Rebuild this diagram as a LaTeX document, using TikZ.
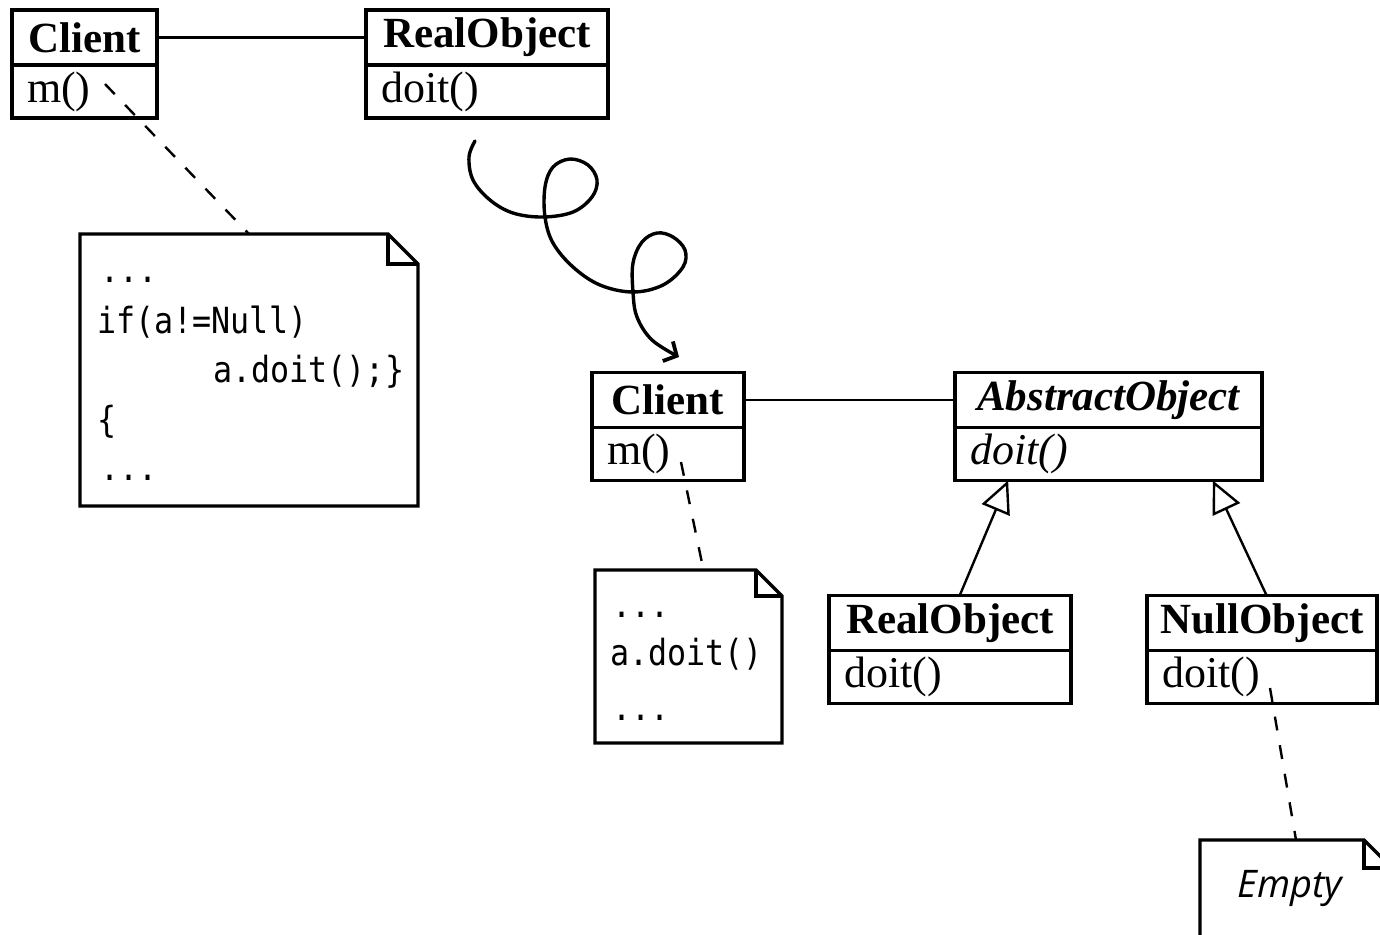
\documentclass[tikz,border=0pt]{standalone}
\usepackage{fontspec}
\setmainfont{Liberation Serif}
\newfontfamily\codefont[FakeStretch=0.88]{DejaVu Sans Mono}
\newfontfamily\notefont{Open Sans}
\usetikzlibrary{arrows.meta,calc}

% note outline with a folded corner, drawn around an invisible node
\newcommand\dogear[2]{%
  \draw[notepath] (#1.north west) -- ([xshift=-#2]#1.north east)
    -- ([yshift=-#2]#1.north east) -- (#1.south east) -- (#1.south west) -- cycle;
  \draw[notepath] ([xshift=-#2]#1.north east) -- ([xshift=-#2,yshift=-#2]#1.north east)
    -- ([yshift=-#2]#1.north east);}

\begin{document}
\begin{tikzpicture}[x=0.5pt,y=-0.5pt,
  box/.style={draw, line width=1.7pt, inner sep=0pt, outer sep=0pt, fill=white},
  clstitle/.style={box, minimum height=27.5pt, font=\fontsize{21.5}{24}\selectfont\bfseries},
  clsmethod/.style={box, minimum height=26.5pt, inner xsep=7.5pt, align=left, anchor=north,
    font=\fontsize{22}{24}\selectfont},
  notebox/.style={draw=none, inner sep=0pt, outer sep=0pt},
  notepath/.style={line width=1.7pt, line join=miter},
  code/.style={anchor=base west, inner sep=0pt, font=\codefont\fontsize{18}{20}\selectfont},
  assoc/.style={line width=1.2pt},
  anchorline/.style={line width=1.2pt, dash pattern=on 7pt off 7.5pt},
  inherit/.style={line width=1.2pt, -{Triangle[open, length=16pt, width=15pt, line width=1.2pt]}},
]
\useasboundingbox (0,0) rectangle (1380,934);
\clip (0,0) rectangle (1380,934);
\fill[white] (0,0) rectangle (1380,934);

% ---------- upper diagram ----------
\node[clstitle, minimum width=72.5pt] (c1t) at (84.5,37.5) {Client};
\node[clsmethod, text width=57.5pt] (c1m) at (c1t.south) {m()};
\node[clstitle, minimum width=121pt] (r1t) at (487,37.5) {RealObject};
\node[clsmethod, text width=106pt] (r1m) at (r1t.south) {doit()};
\draw[assoc] (c1t) -- (r1t);

\node[notebox, minimum width=169pt, minimum height=136pt] (n1) at (249,370) {};
\dogear{n1}{15pt}
\node[code] (n1a) at (100,282) {...};
\node[code] (n1b) at (97,333) {if(a!=Null)};
\node[code] (n1c) at (213,382) {a.doit();\}};
\node[code] (n1d) at (97,432) {\{};
\node[code] (n1e) at (100,480) {...};

\coordinate (c1tail) at (105,84);
\draw[anchorline] (c1tail) -- (n1.north);

% ---------- transformation arrow ----------
\coordinate (curlA) at (475,141);
\coordinate (curlB) at (679,357);
\draw[line width=1.7pt, line cap=round, -{Straight Barb[length=5pt, width=11pt, line width=1.9pt]}]
  plot[smooth, tension=0.6] coordinates {
    (curlA) (469,157) (473,180) (490,200) (513,213) (543,217) (573,212) (592,197)
    (597,180) (588,165) (570,159) (553,167) (545,187) (545,217) (553,243) (573,267)
    (600,285) (633,292) (663,285) (683,267) (685,250) (673,237) (657,233) (642,242)
    (633,263) (633,292) (637,317) (652,340) (curlB)};

% ---------- lower diagram ----------
\node[clstitle, minimum width=76pt] (c2t) at (668,400) {Client};
\node[clsmethod, text width=61pt] (c2m) at (c2t.south) {m()};
\node[clstitle, minimum width=153.5pt] (at) at (1108.5,400) {\itshape AbstractObject};
\node[clsmethod, text width=138.5pt] (am) at (at.south) {\itshape doit()};
\draw[assoc] (c2t) -- (at);

\node[clstitle, minimum width=121pt] (r2t) at (950,623) {RealObject};
\node[clsmethod, text width=106pt] (r2m) at (r2t.south) {doit()};
\node[clstitle, minimum width=115pt] (nt) at (1262,623) {NullObject};
\node[clsmethod, text width=100pt] (nm) at (nt.south) {doit()};

\draw[inherit] ($(r2t.north west)!0.54!(r2t.north east)$) -- ($(am.south west)!0.173!(am.south east)$);
\draw[inherit] ($(nt.north west)!0.52!(nt.north east)$) -- ($(am.south west)!0.84!(am.south east)$);

\node[notebox, minimum width=93.5pt, minimum height=86.5pt] (n2) at (688.5,656.5) {};
\dogear{n2}{13pt}
\node[code] (n2a) at (612,617) {...};
\node[code] (n2b) at (610,665) {a.doit()};
\node[code] (n2c) at (612,720) {...};
\coordinate (c2tail) at (681,462);
\draw[anchorline] (c2tail) -- ($(n2.north west)!0.58!(n2.north east)$);

\node[notebox, minimum width=96pt, minimum height=60pt] (n3) at (1296,900) {};
\dogear{n3}{14pt}
\node[inner sep=0pt, font=\notefont\itshape\fontsize{19}{22}\selectfont] (n3t) at (1290,888) {Empty};
\coordinate (ntail) at (1270,688);
\draw[anchorline] (ntail) -- (n3.north);
\end{tikzpicture}
\end{document}
